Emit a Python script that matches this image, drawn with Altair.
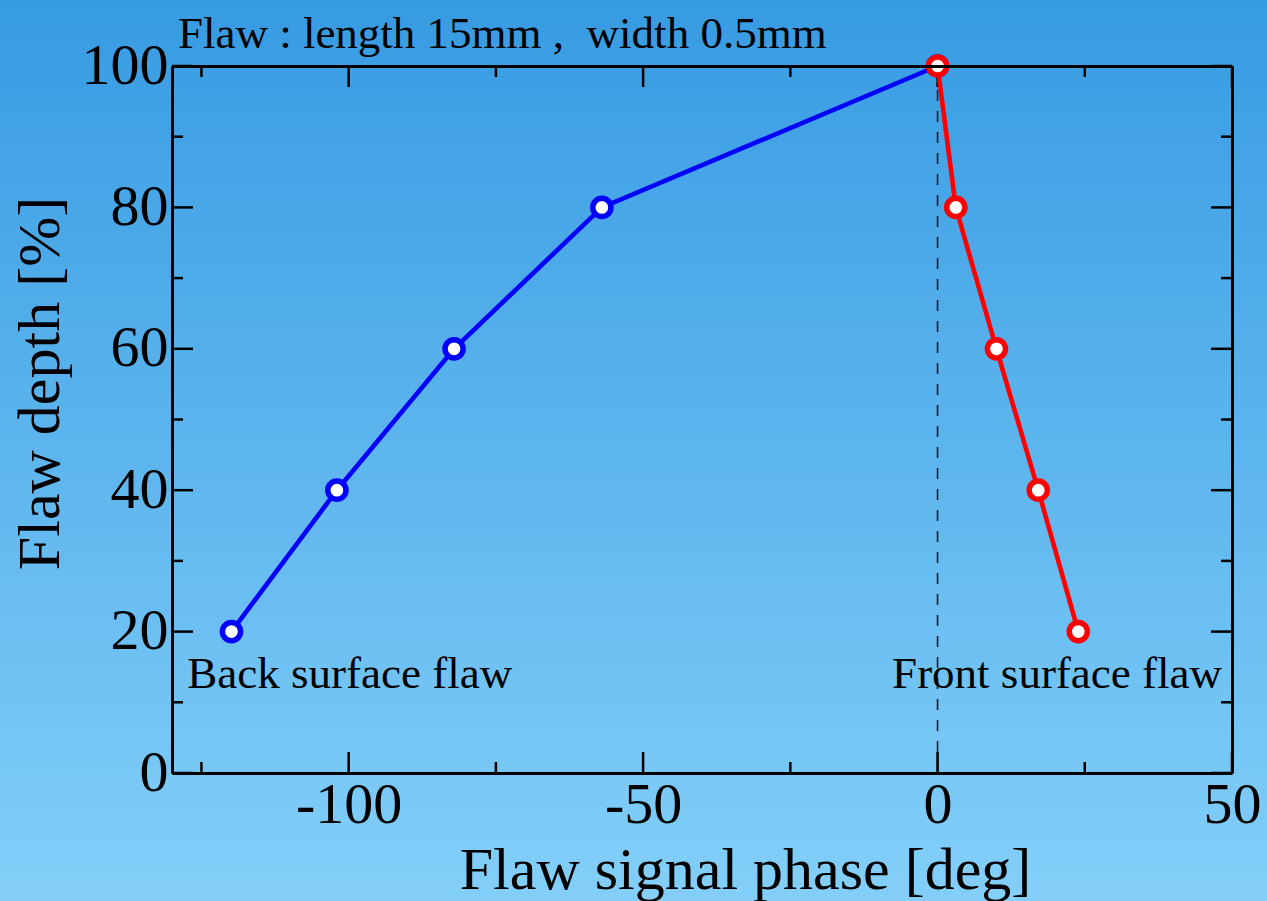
import altair as alt
import pandas as pd

# ---- data ----
back_phase = [-119.9, -102.0, -82.1, -57.0, 0.0]
back_depth = [20, 40, 60, 80, 100]
front_phase = [0.0, 3.1, 10.0, 17.1, 23.9]
front_depth = [100, 80, 60, 40, 20]

x_major = [-100, -50, 0, 50]
x_minor = [-125, -75, -25, 25]
y_major = [0, 20, 40, 60, 80, 100]
y_minor = [10, 30, 50, 70, 90]

dash_x = [0]
dash_y0 = [0]
dash_y1 = [100]

top_text = ["Flaw : length 15mm ,\u00a0 width 0.5mm"]
top_x = [-129]
top_y = [100]

back_label = ["Back surface flaw"]
back_label_x = [-127.4]
back_label_y = [12]
front_label = ["Front surface flaw"]
front_label_x = [48.3]
front_label_y = [12]

# ---- layout / style ----
W, H = 1060, 707
FONT = "Liberation Serif"
xs = alt.Scale(domain=[-130, 50], nice=False, zero=False)
ys = alt.Scale(domain=[0, 100], nice=False, zero=False)

df_back = pd.DataFrame({"phase": back_phase, "depth": back_depth})
df_front = pd.DataFrame({"phase": front_phase, "depth": front_depth})

bg = alt.Chart(alt.Data(values=[{"a": 1}])).mark_rect(
    color=alt.LinearGradient(
        gradient="linear", x1=0, y1=0, x2=0, y2=1,
        stops=[alt.GradientStop(offset=0, color="#379be2"),
               alt.GradientStop(offset=1, color="#83cff9")]),
    clip=False,
).encode(x=alt.value(-172), x2=alt.value(W + 35), y=alt.value(-66), y2=alt.value(H + 128))

dash = alt.Chart(pd.DataFrame({"x": dash_x, "y0": dash_y0, "y1": dash_y1})).mark_rule(
    color="#111c28", strokeWidth=1.6, strokeDash=[11, 10]
).encode(
    x=alt.X("x:Q", scale=xs, axis=None),
    y=alt.Y("y0:Q", scale=ys, axis=None),
    y2="y1:Q",
)


def xticks(vals, length, side):
    base = alt.Chart(pd.DataFrame({"v": vals})).mark_rule(color="black", strokeWidth=2.5)
    if side == "bottom":
        return base.encode(x=alt.X("v:Q", scale=xs, axis=None), y=alt.value(H), y2=alt.value(H - length))
    return base.encode(x=alt.X("v:Q", scale=xs, axis=None), y=alt.value(0), y2=alt.value(length))


def yticks(vals, length, side):
    base = alt.Chart(pd.DataFrame({"v": vals})).mark_rule(color="black", strokeWidth=2.5)
    if side == "left":
        return base.encode(y=alt.Y("v:Q", scale=ys, axis=None), x=alt.value(0), x2=alt.value(length))
    return base.encode(y=alt.Y("v:Q", scale=ys, axis=None), x=alt.value(W), x2=alt.value(W - length))


ticks = [
    xticks(x_major, 21, "bottom"), xticks(x_minor, 11, "bottom"),
    xticks(x_major, 21, "top"), xticks(x_minor, 11, "top"),
    yticks(y_major, 21, "left"), yticks(y_minor, 11, "left"),
    yticks(y_major, 21, "right"), yticks(y_minor, 11, "right"),
]

x_axis = alt.Axis(
    orient="bottom", values=x_major, ticks=False, tickSize=0, grid=False,
    domain=True, domainColor="black", domainWidth=3,
    labelFont=FONT, labelFontSize=58, labelColor="black", labelPadding=3,
    labelFlush=False, labelOverlap=False, labelBound=False,
    labelExpr="'' + datum.value",
    title="Flaw signal phase [deg]", titleFont=FONT, titleFontSize=60,
    titleFontWeight="normal", titleColor="black",
    titleX=573, titleY=115, titleBaseline="alphabetic", titleAlign="center",
    zindex=1,
)
y_axis = alt.Axis(
    orient="left", values=y_major, ticks=False, tickSize=0, grid=False,
    domain=True, domainColor="black", domainWidth=3,
    labelFont=FONT, labelFontSize=58, labelColor="black", labelPadding=4,
    labelOverlap=False, labelBound=False, labelFlush=False,
    labelExpr="'' + datum.value",
    title="Flaw depth [%]", titleFont=FONT, titleFontSize=60,
    titleFontWeight="normal", titleColor="black",
    titleX=-114, titleY=317, titleAngle=270, titleBaseline="alphabetic", titleAlign="center",
    zindex=1,
)

back_line = alt.Chart(df_back).mark_line(color="#0000ff", strokeWidth=4.6).encode(
    x=alt.X("phase:Q", scale=xs, axis=x_axis),
    y=alt.Y("depth:Q", scale=ys, axis=y_axis),
)
front_line = alt.Chart(df_front).mark_line(color="#ff0000", strokeWidth=4.6).encode(
    x=alt.X("phase:Q", scale=xs, axis=None),
    y=alt.Y("depth:Q", scale=ys, axis=None),
)
back_pts = alt.Chart(df_back).mark_point(
    shape="circle", size=330, filled=False, fill="white", fillOpacity=1,
    stroke="#0000ff", strokeWidth=5.5, opacity=1,
).encode(x=alt.X("phase:Q", scale=xs, axis=None), y=alt.Y("depth:Q", scale=ys, axis=None))
front_pts = alt.Chart(df_front).mark_point(
    shape="circle", size=330, filled=False, fill="white", fillOpacity=1,
    stroke="#ff0000", strokeWidth=5.5, opacity=1,
).encode(x=alt.X("phase:Q", scale=xs, axis=None), y=alt.Y("depth:Q", scale=ys, axis=None))

frame = alt.Chart(df_back).mark_point(opacity=0).encode(
    x=alt.X("phase:Q", scale=xs, axis=alt.Axis(
        orient="top", labels=False, ticks=False, tickSize=0, grid=False, title=None,
        domain=True, domainColor="black", domainWidth=3, zindex=1)),
    y=alt.Y("depth:Q", scale=ys, axis=alt.Axis(
        orient="right", labels=False, ticks=False, tickSize=0, grid=False, title=None,
        domain=True, domainColor="black", domainWidth=3, zindex=1)),
)

top_note = alt.Chart(pd.DataFrame({"t": top_text, "x": top_x, "y": top_y})).mark_text(
    font=FONT, fontSize=45, color="black", align="left", baseline="alphabetic", dy=-18, clip=False
).encode(x=alt.X("x:Q", scale=xs, axis=None), y=alt.Y("y:Q", scale=ys, axis=None), text="t:N")

back_note = alt.Chart(pd.DataFrame({"t": back_label, "x": back_label_x, "y": back_label_y})).mark_text(
    font=FONT, fontSize=45, color="black", align="left", baseline="alphabetic"
).encode(x=alt.X("x:Q", scale=xs, axis=None), y=alt.Y("y:Q", scale=ys, axis=None), text="t:N")

front_note = alt.Chart(pd.DataFrame({"t": front_label, "x": front_label_x, "y": front_label_y})).mark_text(
    font=FONT, fontSize=45, color="black", align="right", baseline="alphabetic"
).encode(x=alt.X("x:Q", scale=xs, axis=None), y=alt.Y("y:Q", scale=ys, axis=None), text="t:N")

chart = alt.layer(
    bg, dash, *ticks, back_line, front_line, back_pts, front_pts,
    top_note, back_note, front_note, frame,
).resolve_axis(x="independent", y="independent").properties(
    width=W, height=H,
    autosize=alt.AutoSizeParams(type="none"),
    padding={"left": 172, "top": 66, "right": 35, "bottom": 128},
    background="#5cb4ec",
).configure_view(strokeWidth=0)

chart.save("out.html", embed_options={"renderer": "svg", "actions": False})
